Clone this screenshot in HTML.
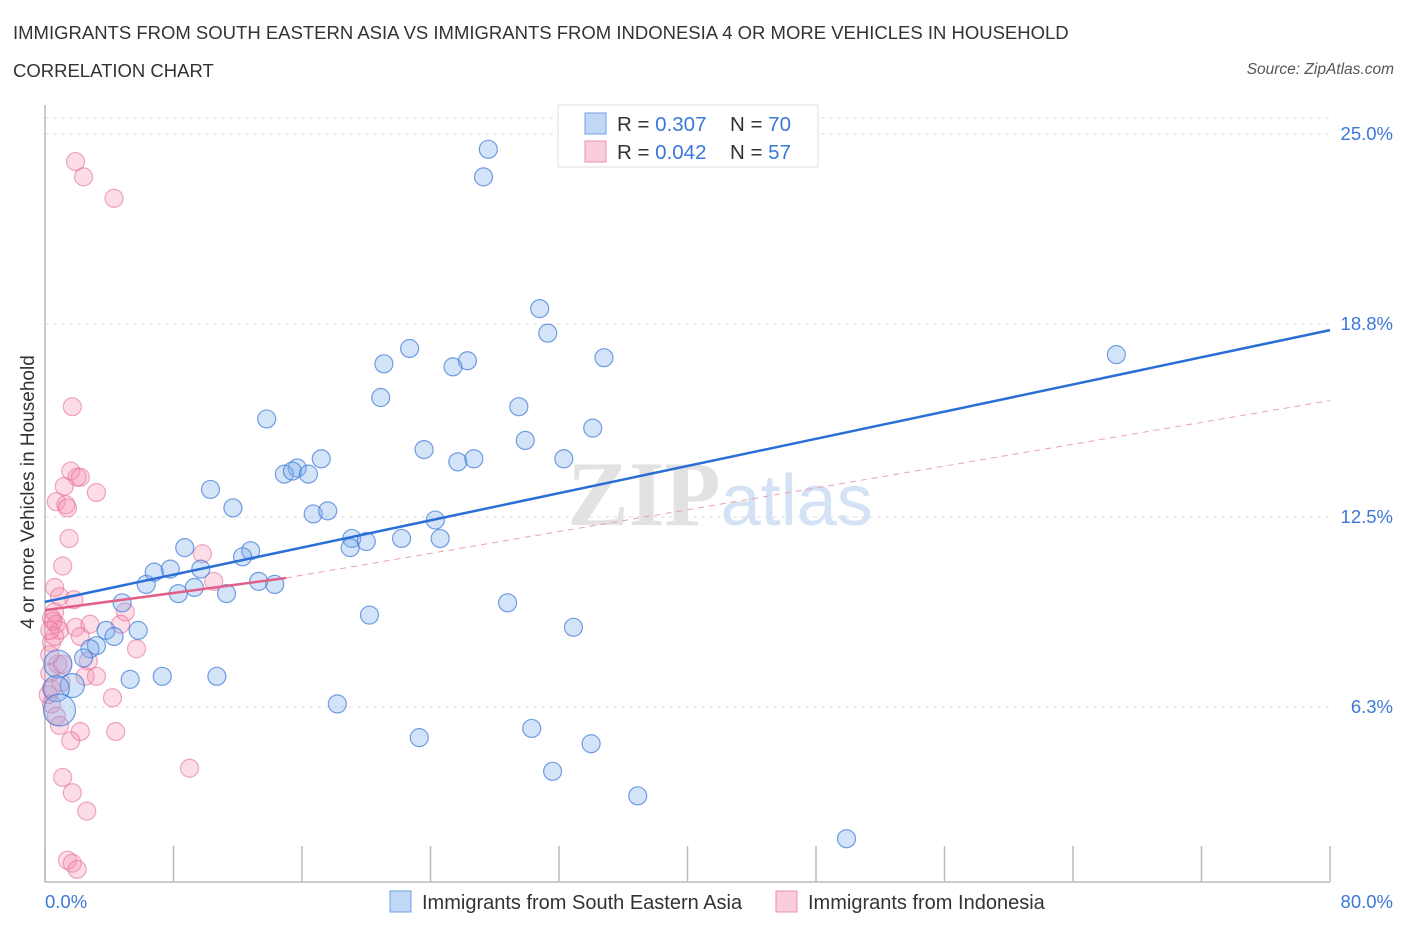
<!DOCTYPE html>
<html><head><meta charset="utf-8"><style>
body{margin:0;background:#fff;font-family:"Liberation Sans",sans-serif;}
#wrap{position:relative;width:1406px;height:930px;overflow:hidden;}
.t{position:absolute;white-space:nowrap;}
</style></head><body>
<div id="wrap">
<div class="t" style="left:13px;top:22px;font-size:18.5px;color:#333;">IMMIGRANTS FROM SOUTH EASTERN ASIA VS IMMIGRANTS FROM INDONESIA 4 OR MORE VEHICLES IN HOUSEHOLD</div>
<div class="t" style="left:13px;top:60px;font-size:18.5px;color:#333;">CORRELATION CHART</div>
<div class="t" style="right:12px;top:61px;font-size:15.5px;color:#555;font-style:italic;">Source: ZipAtlas.com</div>
<svg id="chart" width="1406" height="930" style="position:absolute;left:0;top:0"></svg>
</div>
<script>
const blueX=[27.6,27.3,30.8,31.3,66.7,34.8,22.7,21.1,25.4,26.3,20.9,29.5,13.8,34.1,29.9,23.6,32.3,25.7,26.7,17.2,15.7,14.9,15.4,16.4,10.3,11.7,16.7,17.6,24.3,22.2,24.6,19.1,20.0,19.0,8.7,12.8,12.3,7.8,9.7,6.3,6.8,9.3,13.3,14.3,8.3,11.3,28.8,4.8,20.2,32.9,5.8,3.8,4.3,3.2,2.8,2.4,5.3,7.3,10.7,0.8,1.7,0.7,0.9,18.2,30.3,23.3,34.0,31.6,36.9,49.9];
const blueY=[24.5,23.6,19.3,18.5,17.8,17.7,18.0,17.5,17.4,17.6,16.4,16.1,15.7,15.4,15.0,14.7,14.4,14.3,14.4,14.4,14.1,13.9,14.0,13.9,13.4,12.8,12.6,12.7,12.4,11.8,11.8,11.8,11.7,11.5,11.5,11.4,11.2,10.8,10.8,10.3,10.7,10.2,10.4,10.3,10.0,10.0,9.7,9.7,9.3,8.9,8.8,8.8,8.6,8.3,8.2,7.9,7.2,7.3,7.3,7.7,7.0,6.9,6.2,6.4,5.6,5.3,5.1,4.2,3.4,2.0];
const blueR=[9,9,9,9,9,9,9,9,9,9,9,9,9,9,9,9,9,9,9,9,9,9,9,9,9,9,9,9,9,9,9,9,9,9,9,9,9,9,9,9,9,9,9,9,9,9,9,9,9,9,9,9,9,9,9,9,9,9,9,14,12,13,16,9,9,9,9,9,9,9];
const pinkX=[1.9,2.4,4.3,1.7,1.6,2.2,2.0,3.2,1.2,0.7,1.3,1.4,1.5,9.8,1.1,10.5,0.6,1.8,0.9,0.6,0.4,0.7,5.0,0.9,1.9,2.8,4.7,2.2,0.4,5.7,2.7,0.8,0.3,3.2,0.4,4.2,0.4,0.7,0.9,2.2,4.4,1.6,9.0,1.1,1.7,2.6,1.4,1.7,2.0,1.1,0.3,0.5,1.0,0.2,0.6,2.5,0.3];
const pinkY=[24.1,23.6,22.9,16.1,14.0,13.8,13.8,13.3,13.5,13.0,12.9,12.8,11.8,11.3,10.9,10.4,10.2,9.8,9.9,9.4,9.2,9.0,9.4,8.8,8.9,9.0,9.0,8.6,8.4,8.2,7.8,7.7,7.4,7.3,6.9,6.6,6.4,6.0,5.7,5.5,5.5,5.2,4.3,4.0,3.5,2.9,1.3,1.2,1.0,7.7,8.0,9.1,7.1,6.7,8.6,7.3,8.8];
const blueFitX=[0,80];const blueFitY=[9.73,18.6];
const pinkFitX=[0,15,80];const pinkFitY=[9.46,10.51,16.3];
const yTicks=[25.0,18.8,12.5,6.3];const yTickLabels=["25.0%","18.8%","12.5%","6.3%"];
const xTicks=[0,8,16,24,32,40,48,56,64,72,80];

const NS="http://www.w3.org/2000/svg";
const svg=document.getElementById('chart');
const X=v=>45+v*1285/80;
const Y=v=>900-v*30.64;
function mk(tag,attrs,parent){const e=document.createElementNS(NS,tag);for(const k in attrs)e.setAttribute(k,attrs[k]);(parent||svg).appendChild(e);return e;}
const g0=mk('line',{x1:45,x2:1330,y1:118,y2:118,stroke:'#ddd','stroke-dasharray':'4,4'});


yTicks.forEach((v,i)=>{
 const l=mk('line',{x1:45,x2:1330,y1:Y(v),y2:Y(v),stroke:'#ddd','stroke-dasharray':'4,4'});
 
 
 const t=mk('text',{x:1393,y:Y(v)+6,'text-anchor':'end','font-size':18.5,fill:'#3b78d8','font-family':'Liberation Sans, sans-serif'});
 t.textContent=yTickLabels[i];
 
 
});
xTicks.forEach(v=>{
 const l=mk('line',{x1:X(v),x2:X(v),y1:846,y2:882,stroke:'#bbb','stroke-width':1.5});
 
 
});
const ax=mk('line',{x1:45,x2:45,y1:105,y2:882,stroke:'#bbb','stroke-width':1.5});


const bx=mk('line',{x1:45,x2:1330,y1:882,y2:882,stroke:'#bbb','stroke-width':1.5});


const wm=mk('text',{x:720,y:525,'text-anchor':'middle','font-size':92,'font-family':'Liberation Serif, serif'});


wm.innerHTML='<tspan fill="#e2e2e2" font-weight="bold">ZIP</tspan><tspan fill="#d3e2f4" font-family="Liberation Sans, sans-serif" font-size="72">atlas</tspan>';
pinkX.forEach((v,i)=>{
 const c=mk('circle',{cx:X(v),cy:Y(pinkY[i]),r:9,fill:'rgba(244,143,177,0.3)',stroke:'rgba(230,110,150,0.6)','stroke-width':1.2});
 
 
});
blueX.forEach((v,i)=>{
 const c=mk('circle',{cx:X(v),cy:Y(blueY[i]),r:blueR[i],fill:'rgba(130,175,235,0.35)',stroke:'rgba(60,120,215,0.7)','stroke-width':1.2});
 
 
});
const bl=mk('line',{x1:X(blueFitX[0]),y1:Y(blueFitY[0]),x2:X(blueFitX[1]),y2:Y(blueFitY[1]),stroke:'#2a6fd6','stroke-width':2.5});


const pl=mk('line',{x1:X(pinkFitX[0]),y1:Y(pinkFitY[0]),x2:X(pinkFitX[1]),y2:Y(pinkFitY[1]),stroke:'#e0608a','stroke-width':2.5});


const pd=mk('line',{x1:X(pinkFitX[1]),y1:Y(pinkFitY[1]),x2:X(pinkFitX[2]),y2:Y(pinkFitY[2]),stroke:'#e8a0b8','stroke-width':1,'stroke-dasharray':'6,5'});


const yl=mk('text',{x:0,y:0,transform:'translate(34,492) rotate(-90)','text-anchor':'middle','font-size':19,fill:'#333','font-family':'Liberation Sans, sans-serif'});
yl.textContent='4 or more Vehicles in Household';


const x0=mk('text',{x:45,y:908,'font-size':18.5,fill:'#3b78d8','font-family':'Liberation Sans, sans-serif'});
x0.textContent='0.0%';


const x1=mk('text',{x:1393,y:908,'text-anchor':'end','font-size':18.5,fill:'#3b78d8','font-family':'Liberation Sans, sans-serif'});
x1.textContent='80.0%';


const lg=mk('rect',{x:558,y:105,width:260,height:62,fill:'#fff',stroke:'#ddd'});


[[0,'0.307','70','rgba(130,175,235,0.5)','#6fa0e6'],[1,'0.042','57','rgba(244,143,177,0.45)','#ec8fb0']].forEach(r=>{
 const y=113+r[0]*28;
 const s=mk('rect',{x:585,y:y,width:21,height:21,fill:r[3],stroke:r[4]});
 
 
 const t=mk('text',{x:617,y:y+18,'font-size':20.5,fill:'#333','font-family':'Liberation Sans, sans-serif'});
 t.innerHTML='R = <tspan fill="#3b78d8">'+r[1]+'</tspan><tspan x="730">N = </tspan><tspan fill="#3b78d8">'+r[2]+'</tspan>';
 
 
});
[[390,'Immigrants from South Eastern Asia','rgba(130,175,235,0.5)','#6fa0e6'],[776,'Immigrants from Indonesia','rgba(244,143,177,0.45)','#ec8fb0']].forEach(r=>{
 const s=mk('rect',{x:r[0],y:891,width:21,height:21,fill:r[2],stroke:r[3]});
 
 
 const t=mk('text',{x:r[0]+32,y:909,'font-size':20,fill:'#333','font-family':'Liberation Sans, sans-serif'});
 t.textContent=r[1];
 
 
});
</script>
</body></html>
